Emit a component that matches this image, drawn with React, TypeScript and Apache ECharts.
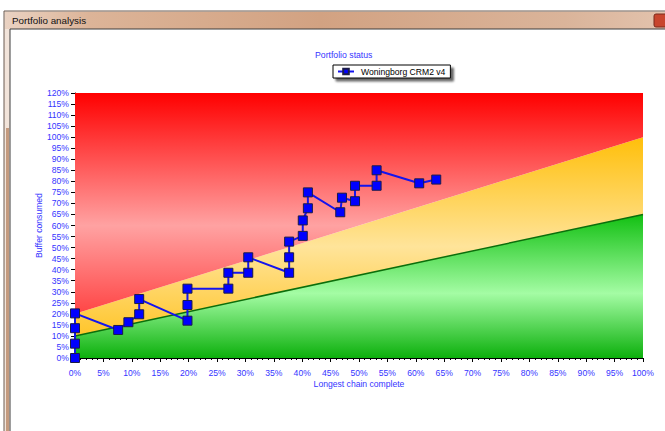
import React, { useEffect, useRef } from "react";
import * as echarts from "echarts";

const seriesName = "Woningborg CRM2 v4";
const chainComplete = [0, 0, 0, 0, 7.6, 9.4, 11.3, 11.3, 19.8, 19.8, 19.8, 27, 27, 30.5, 30.5, 37.7, 37.7, 37.7, 40.1, 40.1, 41, 41, 46.7, 47, 49.3, 49.3, 53.1, 53.1, 60.6, 63.6];
const bufferConsumed = [0, 6.5, 13.5, 20.2, 12.7, 16.2, 19.8, 26.7, 16.9, 24, 31.4, 31.4, 38.6, 38.6, 45.6, 38.6, 45.6, 52.7, 55.3, 62.3, 67.8, 75, 66, 72.6, 71, 78, 78, 85, 79.1, 80.8];

// zone boundaries at chain complete 0% and 100%
const zoneX = [0, 100];
const greenTop = [10, 65];
const yellowTop = [20, 100];
const axisMax = 120;

const FONT = "'Liberation Sans', Arial, sans-serif";
const BLUE = "#3535ff";

export default function App() {
  const ref = useRef<HTMLDivElement>(null);
  useEffect(() => {
    const chart = echarts.init(ref.current!, null, { renderer: "svg" });
    const zones = [
      { name: "green", value: [zoneX[0], zoneX[1], 0, 0, greenTop[0], greenTop[1]] },
      { name: "yellow", value: [zoneX[0], zoneX[1], greenTop[0], greenTop[1], yellowTop[0], yellowTop[1]] },
      { name: "red", value: [zoneX[0], zoneX[1], yellowTop[0], yellowTop[1], axisMax, axisMax] },
    ];
    const grads: Record<string, any[]> = {
      green: [
        { offset: 0, color: "#12c012" },
        { offset: 0.55, color: "#a4fca4" },
        { offset: 1, color: "#0cb00c" },
      ],
      yellow: [
        { offset: 0, color: "#ffbf0a" },
        { offset: 0.55, color: "#ffe49a" },
        { offset: 1, color: "#ffc52a" },
      ],
      red: [
        { offset: 0, color: "#ff0000" },
        { offset: 0.6, color: "#ffa2a2" },
        { offset: 1, color: "#ff4545" },
      ],
    };
    chart.setOption({
      animation: false,
      backgroundColor: "#ffffff",
      textStyle: { fontFamily: FONT },
      title: {
        text: "Portfolio status",
        left: 310,
        top: 45,
        textStyle: { color: BLUE, fontSize: 8.7, fontWeight: "normal", fontFamily: FONT },
      },
      legend: {
        data: [seriesName],
        left: 333,
        top: 65,
        padding: [2, 5, 2, 4],
        itemWidth: 16,
        itemHeight: 7,
        itemGap: 4,
        borderColor: "#000",
        borderWidth: 1,
        backgroundColor: "#fff",
        shadowColor: "rgba(0,0,0,0.6)",
        shadowBlur: 2,
        shadowOffsetX: 3,
        shadowOffsetY: 3,
        textStyle: { color: "#000", fontSize: 8.6, fontFamily: FONT, padding: [0, 0, 0, 2] },
      },
      grid: { left: 75, right: 22, top: 93, bottom: 73 },
      xAxis: {
        type: "value",
        min: 0,
        max: 100,
        interval: 5,
        name: "Longest chain complete",
        nameLocation: "middle",
        nameGap: 21,
        nameMoveOverlap: false,
        nameTextStyle: { color: BLUE, fontSize: 8.6, fontFamily: FONT },
        axisLine: { show: true, onZero: false, lineStyle: { color: "#000", width: 1 } },
        axisTick: { show: true, length: 4, lineStyle: { color: "#000" } },
        minorTick: { show: true, splitNumber: 5, length: 2, lineStyle: { color: "#000" } },
        splitLine: { show: false },
        axisLabel: { formatter: "{value}%", color: BLUE, fontSize: 8.6, margin: 10, fontFamily: FONT },
      },
      yAxis: {
        type: "value",
        min: 0,
        max: axisMax,
        interval: 5,
        name: "Buffer consumed",
        nameLocation: "middle",
        nameGap: 32,
        nameMoveOverlap: false,
        nameTextStyle: { color: BLUE, fontSize: 8.6, fontFamily: FONT },
        axisLine: { show: true, onZero: false, lineStyle: { color: "#000", width: 1 } },
        axisTick: { show: true, length: 4, lineStyle: { color: "#000" } },
        splitLine: { show: false },
        axisLabel: { formatter: "{value}%", color: BLUE, fontSize: 8.6, margin: 6, fontFamily: FONT },
      },
      graphic: [
        { type: "rect", shape: { x: 4, y: 11, width: 700, height: 430 }, style: { fill: "#f2e4da", stroke: "#6a5a50", lineWidth: 1 }, z: -10 },
        {
          type: "rect",
          shape: { x: 5, y: 12, width: 700, height: 17 },
          style: {
            fill: new echarts.graphic.LinearGradient(0, 0, 1, 0, [
              { offset: 0, color: "#ead2c2" },
              { offset: 0.12, color: "#dcb498" },
              { offset: 0.45, color: "#d2a282" },
              { offset: 0.8, color: "#dab49a" },
              { offset: 1, color: "#e6c8b4" },
            ]),
          },
          z: -9,
        },
        { type: "rect", shape: { x: 6, y: 128, width: 3, height: 310 }, style: { fill: "#c49a7e" }, z: -9 },
        { type: "rect", shape: { x: 10, y: 29, width: 700, height: 410 }, style: { fill: "#ffffff", stroke: "#3c3c3c", lineWidth: 1 }, z: -8 },
        { type: "rect", shape: { x: 654, y: 14, width: 14, height: 13, r: 2 }, style: { fill: "#c8462e", stroke: "#7a2a1c", lineWidth: 1 }, z: -7 },
        {
          type: "text",
          x: 12,
          y: 20,
          style: { text: "Portfolio analysis", fill: "#111", fontSize: 9.8, fontFamily: FONT, verticalAlign: "middle" },
          z: -7,
        },
      ],
      series: [
        {
          type: "custom",
          silent: true,
          z: 1,
          data: zones,
          encode: { x: [0, 1], y: [2, 3, 4, 5] },
          renderItem: (params: any, api: any) => {
            const x0 = api.value(0), x1 = api.value(1);
            const pts = [
              api.coord([x0, api.value(2)]),
              api.coord([x1, api.value(3)]),
              api.coord([x1, api.value(5)]),
              api.coord([x0, api.value(4)]),
            ];
            const name = zones[params.dataIndex].name;
            return {
              type: "polygon",
              shape: { points: pts },
              style: { fill: new echarts.graphic.LinearGradient(0, 0, 0, 1, grads[name]) },
            };
          },
        },
        {
          type: "line",
          silent: true,
          z: 2,
          symbol: "none",
          data: [[zoneX[0], greenTop[0]], [zoneX[1], greenTop[1]]],
          lineStyle: { color: "#0b6e0b", width: 1.5 },
        },
        {
          name: seriesName,
          type: "line",
          z: 5,
          data: chainComplete.map((x, i) => [x, bufferConsumed[i]]),
          symbol: "rect",
          symbolSize: 9,
          itemStyle: { color: "#0000ff", borderColor: "#1c1c48", borderWidth: 1 },
          lineStyle: { color: "#1414ee", width: 2 },
          clip: false,
        },
      ],
    });
    return () => chart.dispose();
  }, []);
  return <div ref={ref} style={{ position: "fixed", left: 0, top: 0, width: 665, height: 431 }} />;
}
